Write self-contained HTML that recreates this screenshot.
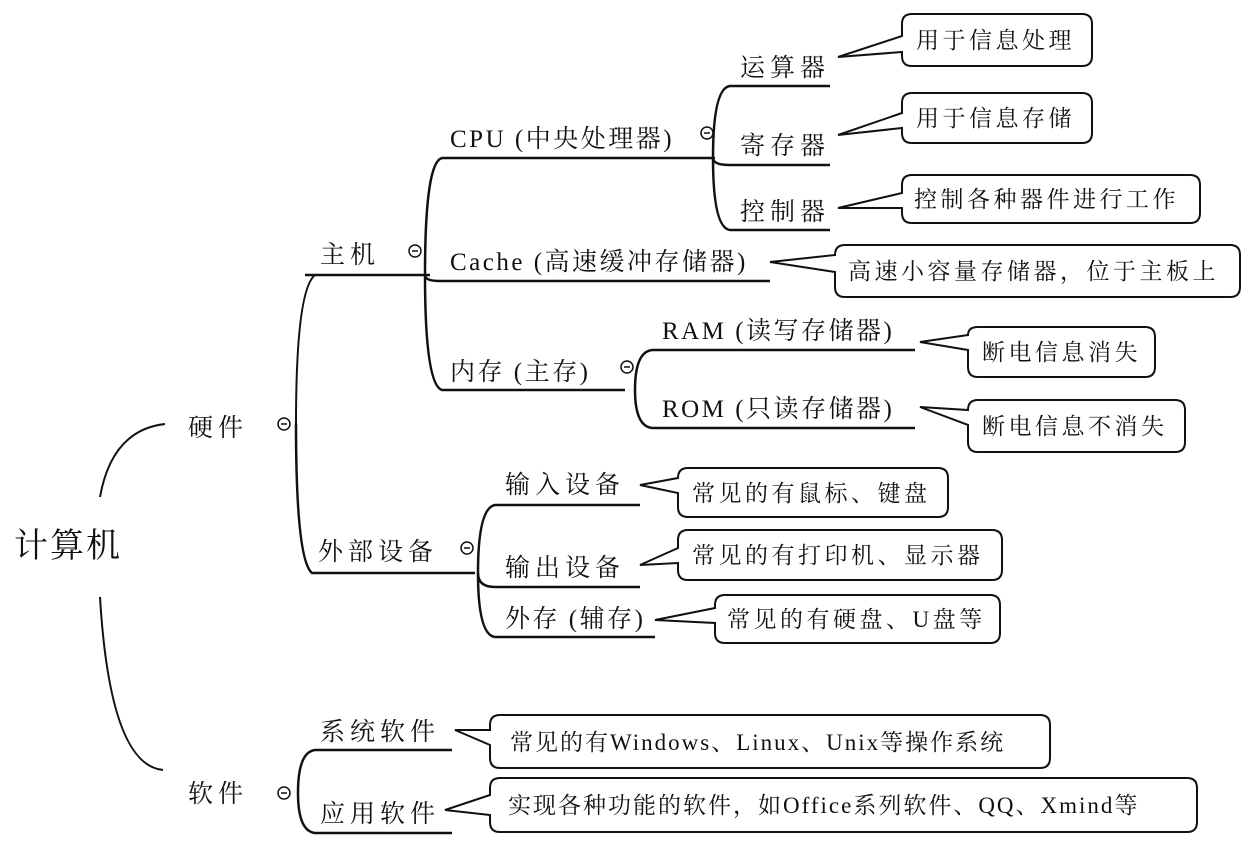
<!DOCTYPE html>
<html><head><meta charset="utf-8"><style>
html,body{margin:0;padding:0;background:#fff;}
svg{display:block;}
text{font-family:"Liberation Serif","Noto Serif CJK SC",serif;fill:#111;}
.n{font-size:25px;letter-spacing:5px;}
.m{font-size:25px;letter-spacing:2.5px;}
.c{font-size:23px;letter-spacing:3.5px;}
.d{font-size:23px;letter-spacing:2px;}
</style></head><body>
<svg width="1256" height="850" viewBox="0 0 1256 850" xmlns="http://www.w3.org/2000/svg">
<g fill="none" stroke="#111" stroke-width="2">
<path d="M100,497 Q112,430 165,424"/>
<path d="M100,597 Q110,765 163,770"/>
<path d="M296,424 Q296,290 315,275 H420"/>
<path d="M296,424 Q296,560 312,573 H475" stroke-width="2.5"/>
<path d="M305,275 H430" stroke-width="2.5"/>
<path d="M425,275 Q425,162 442,158 H715" stroke-width="2.5"/>
<path d="M425,275 Q425,281 440,281 H770" stroke-width="2.5"/>
<path d="M425,275 Q425,385 442,390 H625" stroke-width="2.5"/>
<path d="M713,158 Q713,88 730,86 H830" stroke-width="2.5"/>
<path d="M713,158 Q713,165 730,165 H830" stroke-width="2.5"/>
<path d="M713,158 Q713,228 730,230 H830" stroke-width="2.5"/>
<path d="M635,390 Q635,352 652,350 H915" stroke-width="2.5"/>
<path d="M635,390 Q635,426 652,428 H915" stroke-width="2.5"/>
<path d="M478,573 Q478,508 495,505 H640" stroke-width="2.5"/>
<path d="M478,573 Q478,587 495,587 H640" stroke-width="2.5"/>
<path d="M478,573 Q478,635 495,637 H655" stroke-width="2.5"/>
<path d="M298,793 Q298,752 315,750 H452" stroke-width="2.5"/>
<path d="M298,793 Q298,831 315,833 H452" stroke-width="2.5"/>
<circle cx="284" cy="424" r="6" stroke-width="1.5"/><line x1="281" y1="424" x2="287" y2="424" stroke-width="1.5"/>
<circle cx="284" cy="793" r="6" stroke-width="1.5"/><line x1="281" y1="793" x2="287" y2="793" stroke-width="1.5"/>
<circle cx="415" cy="251" r="6" stroke-width="1.5"/><line x1="412" y1="251" x2="418" y2="251" stroke-width="1.5"/>
<circle cx="707" cy="133" r="6" stroke-width="1.5"/><line x1="704" y1="133" x2="710" y2="133" stroke-width="1.5"/>
<circle cx="627" cy="367" r="6" stroke-width="1.5"/><line x1="624" y1="367" x2="630" y2="367" stroke-width="1.5"/>
<circle cx="467" cy="548" r="6" stroke-width="1.5"/><line x1="464" y1="548" x2="470" y2="548" stroke-width="1.5"/>
<path d="M912,14 H1082 Q1092,14 1092,24 V56 Q1092,66 1082,66 H912 Q902,66 902,56 V52 L838,57 L902,36 V24 Q902,14 912,14 Z"/>
<path d="M912,93 H1082 Q1092,93 1092,103 V133 Q1092,143 1082,143 H912 Q902,143 902,133 V128 L838,135 L902,113 V103 Q902,93 912,93 Z"/>
<path d="M912,175 H1190 Q1200,175 1200,185 V213 Q1200,223 1190,223 H912 Q902,223 902,213 V208 L838,208 L902,193 V185 Q902,175 912,175 Z"/>
<path d="M845,245 H1230 Q1240,245 1240,255 V287 Q1240,297 1230,297 H845 Q835,297 835,287 V272 L770,262 L835,255 Q835,245 845,245 Z"/>
<path d="M978,327 H1145 Q1155,327 1155,337 V367 Q1155,377 1145,377 H978 Q968,377 968,367 V350 L920,342 L968,335 Q968,327 978,327 Z"/>
<path d="M978,400 H1175 Q1185,400 1185,410 V442 Q1185,452 1175,452 H978 Q968,452 968,442 V425 L920,407 L968,410 Q968,400 978,400 Z"/>
<path d="M688,468 H938 Q948,468 948,478 V507 Q948,517 938,517 H688 Q678,517 678,507 V493 L640,485 L678,478 Q678,468 688,468 Z"/>
<path d="M688,530 H992 Q1002,530 1002,540 V570 Q1002,580 992,580 H688 Q678,580 678,570 V563 L640,565 L678,548 V540 Q678,530 688,530 Z"/>
<path d="M725,595 H990 Q1000,595 1000,605 V633 Q1000,643 990,643 H725 Q715,643 715,633 V623 L655,620 L715,608 V605 Q715,595 725,595 Z"/>
<path d="M500,715 H1040 Q1050,715 1050,725 V758 Q1050,768 1040,768 H500 Q490,768 490,758 V745 L455,730 L490,730 V725 Q490,715 500,715 Z"/>
<path d="M500,778 H1187 Q1197,778 1197,788 V822 Q1197,832 1187,832 H500 Q490,832 490,822 V815 L445,810 L490,795 V788 Q490,778 500,778 Z"/>
</g>
<text x="14" y="557" style="font-size:34px;letter-spacing:2px">计算机</text>
<text class="n" x="188" y="436">硬件</text>
<text class="n" x="188" y="802">软件</text>
<text class="n" x="320" y="263">主机</text>
<text class="n" x="318" y="560">外部设备</text>
<text class="m" x="450" y="147">CPU (中央处理器)</text>
<text class="m" x="450" y="270">Cache (高速缓冲存储器)</text>
<text class="m" x="450" y="380">内存 (主存)</text>
<text class="n" x="740" y="76">运算器</text>
<text class="n" x="740" y="154">寄存器</text>
<text class="n" x="740" y="220">控制器</text>
<text class="m" x="662" y="339">RAM (读写存储器)</text>
<text class="m" x="662" y="417">ROM (只读存储器)</text>
<text class="n" x="505" y="493">输入设备</text>
<text class="n" x="505" y="576">输出设备</text>
<text class="m" x="505" y="627">外存 (辅存)</text>
<text class="n" x="320" y="740">系统软件</text>
<text class="n" x="320" y="822">应用软件</text>
<text class="c" x="916" y="48">用于信息处理</text>
<text class="c" x="916" y="126">用于信息存储</text>
<text class="c" x="914" y="207">控制各种器件进行工作</text>
<text class="c" x="848" y="279">高速小容量存储器，位于主板上</text>
<text class="c" x="982" y="360">断电信息消失</text>
<text class="c" x="982" y="434">断电信息不消失</text>
<text class="c" x="692" y="501">常见的有鼠标、键盘</text>
<text class="c" x="692" y="563">常见的有打印机、显示器</text>
<text class="c" x="727" y="627">常见的有硬盘、U盘等</text>
<text class="d" x="510" y="750">常见的有Windows、Linux、Unix等操作系统</text>
<text class="d" x="508" y="813">实现各种功能的软件，如Office系列软件、QQ、Xmind等</text>
</svg>
</body></html>
